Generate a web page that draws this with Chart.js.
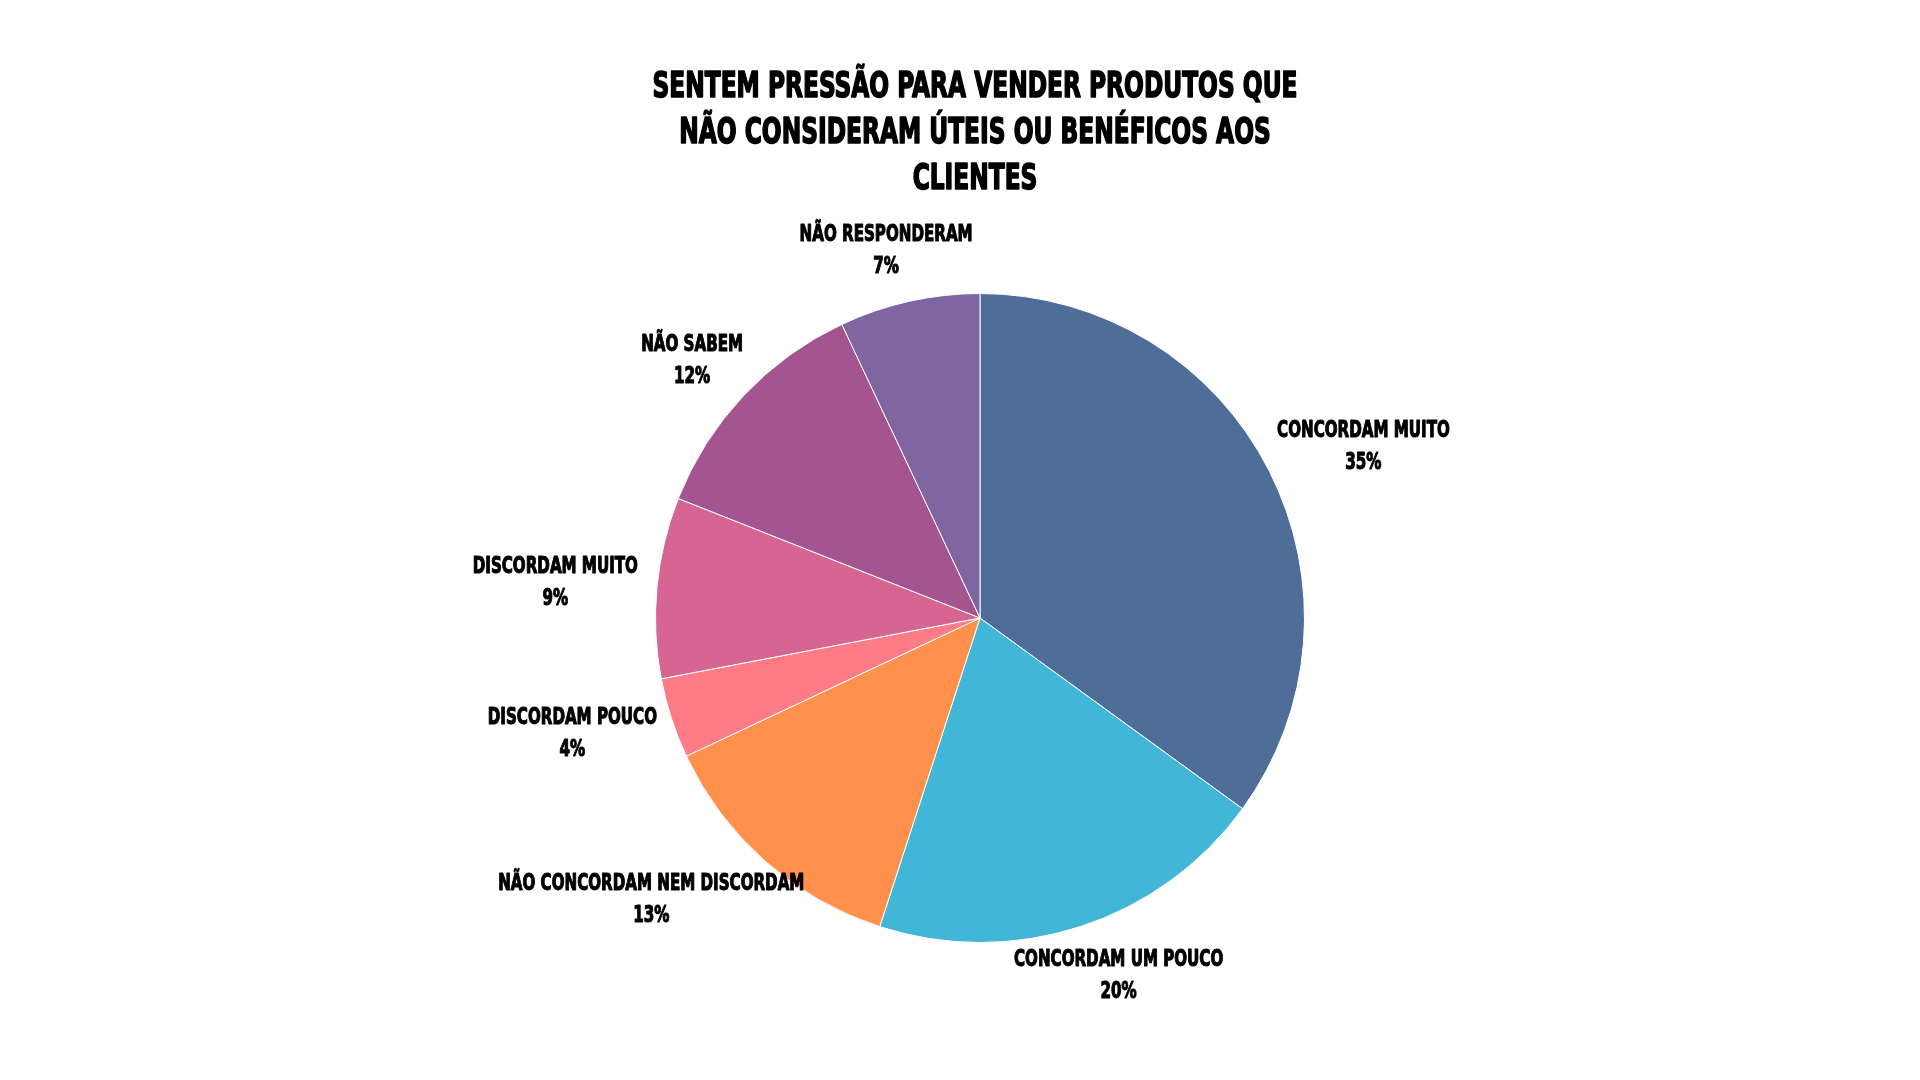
<!DOCTYPE html>
<html>
<head>
<meta charset="utf-8">
<script src="https://cdn.jsdelivr.net/npm/chart.js@4/dist/chart.umd.min.js"></script>
<style>
  html, body { margin: 0; padding: 0; background: #fff; }
  #wrap { width: 1920px; height: 1080px; }
</style>
</head>
<body>
<div id="wrap"><canvas id="chart" width="1920" height="1080"></canvas></div>
<script>
const categories = [
  'CONCORDAM MUITO',
  'CONCORDAM UM POUCO',
  'NÃO CONCORDAM NEM DISCORDAM',
  'DISCORDAM POUCO',
  'DISCORDAM MUITO',
  'NÃO SABEM',
  'NÃO RESPONDERAM'
];
const shares = [35, 20, 13, 4, 9, 12, 7];
const sliceColors = ['#4f6d99', '#41b6d6', '#ff914d', '#ff7b85', '#d66592', '#a4558f', '#8066a0'];
const titleLines = [
  'SENTEM PRESSÃO PARA VENDER PRODUTOS QUE',
  'NÃO CONSIDERAM ÚTEIS OU BENÉFICOS AOS',
  'CLIENTES'
];

const FONT = "'DejaVu Sans Condensed', 'DejaVu Sans', sans-serif";

// draw text squeezed horizontally (and a bit heavier), the reference uses a very narrow display face
function narrowText(ctx, text, x, y, squeeze) {
  ctx.save();
  ctx.translate(x, y);
  ctx.scale(squeeze, 1);
  ctx.strokeText(text, 0, 0);
  ctx.fillText(text, 0, 0);
  ctx.restore();
}

const narrowTitle = {
  id: 'narrowTitle',
  afterDraw(chart) {
    const ctx = chart.ctx;
    const a = chart.chartArea;
    const cx = (a.left + a.right) / 2;
    ctx.save();
    ctx.font = 'bold 36px ' + FONT;
    ctx.fillStyle = '#000';
    ctx.strokeStyle = '#000';
    ctx.lineWidth = 1.6;
    ctx.lineJoin = 'round';
    ctx.textAlign = 'center';
    ctx.textBaseline = 'middle';
    titleLines.forEach((t, k) => narrowText(ctx, t, cx - 5, 88 + k * 46, 0.72));
    ctx.restore();
  }
};

// labels outside each slice, block edge touching a point just past the rim
const outsideLabels = {
  id: 'outsideLabels',
  afterDatasetsDraw(chart) {
    const ctx = chart.ctx;
    const meta = chart.getDatasetMeta(0);
    const size = 23, lineH = 32, squeeze = 0.73;
    ctx.save();
    ctx.font = 'bold ' + size + 'px ' + FONT;
    ctx.fillStyle = '#000';
    ctx.strokeStyle = '#000';
    ctx.lineWidth = 1.1;
    ctx.lineJoin = 'round';
    ctx.textAlign = 'center';
    ctx.textBaseline = 'middle';
    meta.data.forEach((arc, i) => {
      const p = arc.getProps(['x', 'y', 'startAngle', 'endAngle', 'outerRadius'], true);
      const mid = (p.startAngle + p.endAngle) / 2;
      const dx = Math.cos(mid), dy = Math.sin(mid);
      const lines = [categories[i], shares[i] + '%'];
      const w = Math.max(...lines.map(t => ctx.measureText(t).width)) * squeeze;
      const h = lines.length * lineH;
      const ax = p.x + dx * p.outerRadius * 1.06;
      const ay = p.y + dy * p.outerRadius * 1.06;
      const cx = ax + dx * w / 2;
      const cy = ay + dy * h / 2;
      lines.forEach((t, k) => narrowText(ctx, t, cx, cy - h / 2 + lineH * (k + 0.5), squeeze));
    });
    ctx.restore();
  }
};

new Chart(document.getElementById('chart').getContext('2d'), {
  type: 'pie',
  data: {
    labels: categories,
    datasets: [{
      data: shares,
      backgroundColor: sliceColors,
      borderColor: '#ffffff',
      borderWidth: 1
    }]
  },
  options: {
    responsive: false,
    animation: false,
    layout: { padding: { top: 293, bottom: 137, left: 40, right: 0 } },
    plugins: {
      legend: { display: false },
      tooltip: { enabled: false },
      title: { display: false }
    }
  },
  plugins: [outsideLabels, narrowTitle]
});
</script>
</body>
</html>
